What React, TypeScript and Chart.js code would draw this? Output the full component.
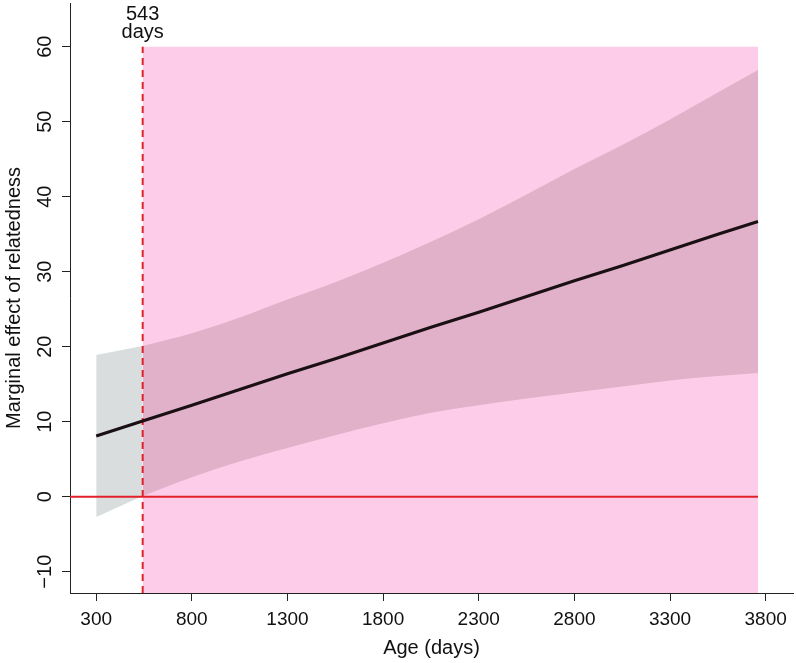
import React, { useEffect, useRef } from 'react';
import { Chart, registerables } from 'chart.js';
Chart.register(...registerables);

// ---- data ----
const ages = [300, 543, 800, 1050, 1300, 1550, 1800, 2050, 2300, 2550, 2800, 3050, 3300, 3550, 3760];
const effect = [8.1, 10.1, 12.2, 14.3, 16.4, 18.4, 20.5, 22.6, 24.6, 26.7, 28.8, 30.8, 32.9, 35.0, 36.7];
const upperCI = [18.9, 20.1, 21.8, 23.9, 26.3, 28.6, 31.2, 34.0, 37.0, 40.3, 43.7, 46.9, 50.3, 53.9, 56.9];
const lowerCI = [-2.7, 0.1, 2.6, 4.7, 6.5, 8.2, 9.8, 11.2, 12.2, 13.1, 13.9, 14.7, 15.5, 16.1, 16.5];
const thresholdAge = 543;
const regionEnd = 3760;
const regionTop = 60;
const xTickValues = [300, 800, 1300, 1800, 2300, 2800, 3300, 3800];
const yTickValues = [-10, 0, 10, 20, 30, 40, 50, 60];
const xRange = [163, 3943];
const yRange = [-12.84, 65.83];
const thresholdLabel = ['543', 'days'];
const xTitle = 'Age (days)';
const yTitle = 'Marginal effect of relatedness';

const FONT = '"Liberation Sans", Arimo, Arial, sans-serif';
const PINK = '#FDCCE8';
const OVERLAP = '#E0B1C9';
const GRAY = '#D9DDDD';
const RED = '#E3202A';
const AXIS = '#222222';

const pts = (xs: number[], ys: number[]) => xs.map((x, i) => ({ x, y: ys[i] }));

const textPlugin = {
  id: 'rText',
  afterDraw(chart: any) {
    const { ctx, scales, chartArea } = chart;
    const xs = scales.x;
    const ys = scales.y;
    ctx.save();
    ctx.fillStyle = '#111111';
    ctx.textAlign = 'center';
    ctx.textBaseline = 'alphabetic';
    // x tick labels
    ctx.font = `19px ${FONT}`;
    xTickValues.forEach((v) => {
      ctx.fillText(String(v), xs.getPixelForValue(v), 625);
    });
    ctx.font = `20px ${FONT}`;
    // x title
    ctx.fillText(xTitle, (chartArea.left + chartArea.right) / 2, 654);
    // threshold label
    const tx = xs.getPixelForValue(thresholdAge);
    ctx.fillText(thresholdLabel[0], tx, 20);
    ctx.fillText(thresholdLabel[1], tx, 38);
    // y tick labels, rotated
    yTickValues.forEach((v) => {
      ctx.save();
      ctx.translate(50.5, ys.getPixelForValue(v));
      ctx.rotate(-Math.PI / 2);
      ctx.fillText(v < 0 ? '\u2212' + Math.abs(v) : String(v), 0, 0);
      ctx.restore();
    });
    // y title
    ctx.save();
    ctx.translate(20, (chartArea.top + chartArea.bottom) / 2);
    ctx.rotate(-Math.PI / 2);
    ctx.fillText(yTitle, 0, 0);
    ctx.restore();
    ctx.restore();
  },
};

export default function App() {
  const ref = useRef<HTMLCanvasElement | null>(null);
  useEffect(() => {
    if (!ref.current) return;
    const lowA = ages.map((a, i) => ({ x: a, y: lowerCI[i] })).filter((p) => p.x <= thresholdAge);
    const upA = ages.map((a, i) => ({ x: a, y: upperCI[i] })).filter((p) => p.x <= thresholdAge);
    const lowB = ages.map((a, i) => ({ x: a, y: lowerCI[i] })).filter((p) => p.x >= thresholdAge);
    const upB = ages.map((a, i) => ({ x: a, y: upperCI[i] })).filter((p) => p.x >= thresholdAge);
    const none = { pointRadius: 0, pointHoverRadius: 0 };
    const chart = new Chart(ref.current, {
      type: 'line',
      data: {
        datasets: [
          { label: 'effect', data: pts(ages, effect), borderColor: '#1a1014', borderWidth: 3, fill: false, order: 0, ...none },
          { label: 'zero', data: [{ x: xRange[0], y: 0 }, { x: regionEnd, y: 0 }], borderColor: RED, borderWidth: 2, fill: false, order: 1, ...none },
          { label: 'threshold', data: [{ x: thresholdAge, y: yRange[0] }, { x: thresholdAge, y: regionTop }], borderColor: RED, borderWidth: 2, borderDash: [7, 5], fill: false, order: 2, ...none },
          { label: 'lowA', data: lowA, borderWidth: 0, borderColor: 'rgba(0,0,0,0)', fill: false, order: 3, ...none },
          { label: 'upA', data: upA, borderWidth: 0, borderColor: 'rgba(0,0,0,0)', backgroundColor: GRAY, fill: { target: 3 }, order: 4, ...none },
          { label: 'lowB', data: lowB, borderWidth: 0, borderColor: 'rgba(0,0,0,0)', fill: false, cubicInterpolationMode: 'monotone', order: 5, ...none },
          { label: 'upB', data: upB, borderWidth: 0, borderColor: 'rgba(0,0,0,0)', backgroundColor: OVERLAP, fill: { target: 5 }, cubicInterpolationMode: 'monotone', order: 6, ...none },
          { label: 'region', data: [{ x: thresholdAge, y: regionTop }, { x: regionEnd, y: regionTop }], borderWidth: 0, borderColor: 'rgba(0,0,0,0)', backgroundColor: PINK, fill: 'start', order: 7, ...none },
        ],
      },
      options: {
        responsive: false,
        animation: false,
        events: [],
        layout: { padding: { left: 0, top: 3, right: 3, bottom: 0 } },
        plugins: { legend: { display: false }, tooltip: { enabled: false } },
        scales: {
          x: {
            type: 'linear',
            min: xRange[0],
            max: xRange[1],
            afterBuildTicks: (s: any) => { s.ticks = xTickValues.map((v) => ({ value: v })); },
            afterFit: (s: any) => { s.height = 70; },
            ticks: { display: false },
            grid: { display: true, drawOnChartArea: false, drawTicks: true, tickLength: 8, color: AXIS, lineWidth: 1 },
            border: { display: true, color: AXIS, width: 1 },
          },
          y: {
            type: 'linear',
            min: yRange[0],
            max: yRange[1],
            afterBuildTicks: (s: any) => { s.ticks = yTickValues.map((v) => ({ value: v })); },
            afterFit: (s: any) => { s.width = 70; },
            ticks: { display: false },
            grid: { display: true, drawOnChartArea: false, drawTicks: true, tickLength: 8, color: AXIS, lineWidth: 1 },
            border: { display: true, color: AXIS, width: 1 },
          },
        },
      },
      plugins: [textPlugin],
    } as any);
    return () => chart.destroy();
  }, []);
  return (
    <div style={{ position: 'absolute', left: 0, top: 0, width: 796, height: 663, background: '#fff' }}>
      <canvas ref={ref} width={796} height={663} style={{ display: 'block' }} />
    </div>
  );
}
